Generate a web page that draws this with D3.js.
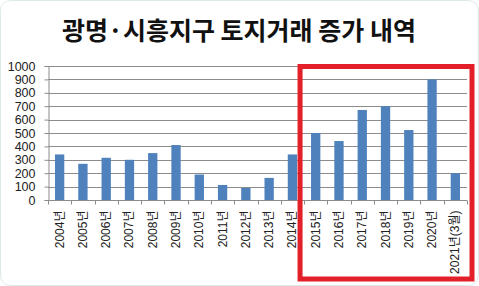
<!DOCTYPE html>
<html>
<head>
<meta charset="utf-8">
<script src="https://cdn.jsdelivr.net/npm/d3@7"></script>
<style>
  body { margin: 0; background: #fff; }
  text { font-family: "Liberation Sans", "Noto Sans CJK KR", Arial, sans-serif; }
</style>
</head>
<body>
<div id="chart"></div>
<script>
const years = ["2004년", "2005년", "2006년", "2007년", "2008년", "2009년", "2010년", "2011년", "2012년",
  "2013년", "2014년", "2015년", "2016년", "2017년", "2018년", "2019년", "2020년", "2021년(3월)"];
const counts = [340, 270, 315, 300, 350, 410, 190, 112, 90, 165, 340, 500, 440, 672, 700, 522, 900, 200];
const yTicks = [0, 100, 200, 300, 400, 500, 600, 700, 800, 900, 1000];
const highlightFrom = "2015년";

const W = 479, H = 286;
const margin = { top: 66, right: 12, bottom: 86, left: 48 };
const width = W - margin.left - margin.right;
const height = H - margin.top - margin.bottom;

const svg = d3.select("#chart").append("svg")
  .attr("width", W)
  .attr("height", H);

// faint outer frame
svg.append("rect")
  .attr("x", 0.5).attr("y", 0.5)
  .attr("width", W - 1).attr("height", H - 1)
  .attr("rx", 10)
  .attr("fill", "none")
  .attr("stroke", "#dfe8e8");

svg.append("text")
  .attr("x", 239)
  .attr("y", 40)
  .attr("text-anchor", "middle")
  .style("font-family", "'Noto Sans CJK KR', sans-serif")
  .style("font-weight", "bold")
  .style("font-size", "25px")
  .attr("fill", "#111")
  .text("광명·시흥지구 토지거래 증가 내역");

const g = svg.append("g").attr("transform", `translate(${margin.left},${margin.top})`);

const x = d3.scaleBand().domain(years).range([0, width]).paddingInner(0.6).paddingOuter(0.3);
const y = d3.scaleLinear().domain([0, 1000]).range([height, 0]);

// gridlines
g.append("g")
  .selectAll("line")
  .data(yTicks.filter(d => d > 0))
  .join("line")
  .attr("x1", 0).attr("x2", width)
  .attr("y1", d => Math.round(y(d)) + 0.5)
  .attr("y2", d => Math.round(y(d)) + 0.5)
  .attr("stroke", "#8c8c8c");

g.append("g")
  .attr("fill", "#4f81bd")
  .selectAll("rect")
  .data(counts)
  .join("rect")
  .attr("x", (d, i) => x(years[i]))
  .attr("y", d => y(d))
  .attr("width", x.bandwidth())
  .attr("height", d => height - y(d));

// y axis
const yAxis = g.append("g")
  .attr("transform", "translate(0.5,0)")
  .call(d3.axisLeft(y).tickValues(yTicks).tickFormat(d3.format("d")).tickSize(4).tickPadding(9));
yAxis.select(".domain").attr("stroke", "#8c8c8c");
yAxis.selectAll(".tick line").attr("stroke", "#8c8c8c");
yAxis.selectAll("text")
  .style("font-family", "'Liberation Sans', Arial, sans-serif")
  .style("font-size", "12.5px")
  .attr("fill", "#222");

// x axis with ticks on band boundaries
const xAxis = g.append("g").attr("transform", `translate(0,${height + 0.5})`);
xAxis.append("line")
  .attr("x1", 0).attr("x2", width)
  .attr("stroke", "#8c8c8c");
xAxis.selectAll(".btick")
  .data(d3.range(years.length + 1))
  .join("line")
  .attr("class", "btick")
  .attr("x1", i => Math.round(i * (width / years.length)) + 0.5)
  .attr("x2", i => Math.round(i * (width / years.length)) + 0.5)
  .attr("y1", 0).attr("y2", 4)
  .attr("stroke", "#8c8c8c");
xAxis.selectAll("text")
  .data(years)
  .join("text")
  .attr("transform", d => `translate(${x(d) + x.bandwidth() / 2 + 4},10) rotate(-90)`)
  .attr("text-anchor", "end")
  .style("font-size", "12px")
  .attr("fill", "#222")
  .text(d => d);

// red highlight box
const step = x.step();
const hx = x(highlightFrom) - (step - x.bandwidth()) / 2 - 4;
svg.append("rect")
  .attr("x", margin.left + hx)
  .attr("y", 66.5)
  .attr("width", 472 - (margin.left + hx))
  .attr("height", 279 - 66.5)
  .attr("fill", "none")
  .attr("stroke", "#e3202a")
  .attr("stroke-width", 5);
</script>
</body>
</html>
